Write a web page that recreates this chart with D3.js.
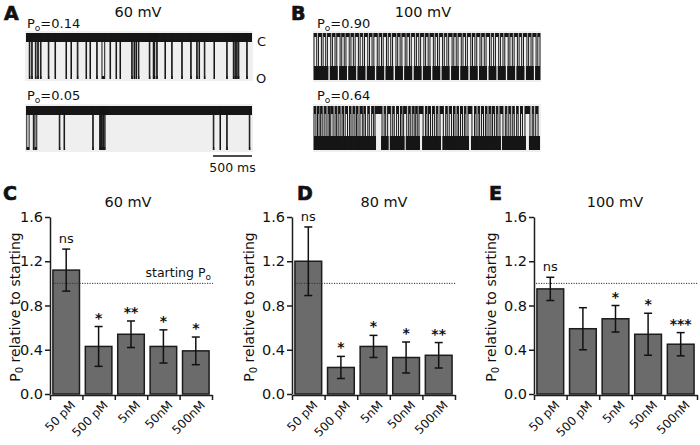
<!DOCTYPE html>
<html>
<head>
<meta charset="utf-8">
<script src="https://cdn.jsdelivr.net/npm/d3@7"></script>
<style>
  body { margin: 0; background: #fff; }
  svg text { font-family: "DejaVu Sans", sans-serif; fill: #111; }
</style>
</head>
<body>
<div id="chart"></div>
<script>
const width = 700;
const height = 445;

// bar charts: Po relative to starting, mean and error
const concentrations = ["50 pM", "500 pM", "5nM", "50nM", "500nM"];
const po60 = [1.12, 0.43, 0.54, 0.43, 0.39];
const err60 = [0.19, 0.18, 0.12, 0.15, 0.125];
const sig60 = ["ns", "*", "**", "*", "*"];
const po80 = [1.2, 0.24, 0.43, 0.33, 0.35];
const err80 = [0.31, 0.10, 0.10, 0.14, 0.115];
const sig80 = ["ns", "*", "*", "*", "**"];
const po100 = [0.95, 0.59, 0.68, 0.54, 0.45];
const err100 = [0.105, 0.19, 0.12, 0.19, 0.105];
const sig100 = ["ns", "", "*", "*", "***"];
const yTicks = [0, 0.4, 0.8, 1.2, 1.6];

// single channel traces, events in the less frequent state as [start ms, end ms]
const openingsA1 = [[42,49],[73,80],[120,128],[150,158],[185,193],[286,293],[372,379],[513,520],[577,584],[658,666],
  [770,777],[821,828],[907,914],[975,1010],[1078,1085],[1155,1162],[1206,1213],[1356,1363],[1386,1393],[1411,1418],
  [1441,1448],[1582,1589],[1633,1638],[1646,1652],[1677,1684],[1783,1790],[1869,1876],[1998,2005],[2113,2120],
  [2190,2197],[2220,2227],[2288,2295],[2412,2419],[2575,2582],[2660,2666],[2681,2687],[2703,2709],[2724,2731],[2832,2839]];
const openingsA2 = [[10,40],[94,101],[115,138],[427,434],[488,495],[856,863],[945,955],[962,970],[980,995],[1003,1015],
  [2403,2410],[2489,2496],[2575,2582],[2865,2872]];
const closuresB1 = [[0,35],[57,95],[117,150],[172,215],[236,270],[292,335],[356,388],[410,452],[474,505],[528,570],
  [592,625],[648,690],[712,745],[768,812],[835,866],[888,930],[952,985],[1008,1052],[1074,1105],[1128,1170],
  [1192,1225],[1248,1292],[1314,1345],[1368,1410],[1432,1465],[1488,1532],[1554,1585],[1608,1650],[1672,1705],
  [1728,1772],[1794,1825],[1848,1890],[1912,1945],[1968,2012],[2034,2065],[2088,2130],[2152,2185],[2208,2252],
  [2274,2305],[2328,2370],[2392,2425],[2448,2492],[2514,2545],[2568,2610],[2632,2665],[2688,2732],[2754,2785],
  [2808,2850],[2872,2900]];
const closuresB2 = [[0,25],[45,65],[85,105],[130,155],[180,200],[215,245],[270,290],[310,335],[360,378],[400,430],
  [455,475],[500,525],[545,565],[590,620],[640,660],[690,710],[740,765],[783,873],[900,920],[945,985],[1010,1030],
  [1060,1085],[1110,1130],[1150,1190],[1215,1235],[1260,1285],[1305,1325],[1347,1400],[1430,1450],[1470,1495],
  [1520,1545],[1570,1590],[1617,1660],[1690,1710],[1735,1765],[1790,1810],[1835,1855],[1880,1905],[1930,1950],
  [1976,2027],[2060,2080],[2105,2125],[2150,2175],[2200,2220],[2245,2270],[2290,2315],[2340,2360],[2386,2425],
  [2455,2475],[2500,2525],[2550,2570],[2600,2620],[2650,2675],[2707,2771],[2800,2820],[2845,2875]];
const traceLength = 2900;
const scaleBarMs = 500;

const svg = d3.select("#chart")
  .append("svg")
  .attr("width", width)
  .attr("height", height);

function letter(x, y, t) {
  svg.append("text")
    .attr("x", x).attr("y", y)
    .attr("font-family", "Liberation Sans, Arial, sans-serif")
    .attr("font-weight", "bold")
    .attr("font-size", 19)
    .attr("stroke", "#111").attr("stroke-width", 0.7)
    .text(t);
}

function poLabel(x, y, value) {
  const t = svg.append("text").attr("x", x).attr("y", y).attr("font-size", 13);
  t.append("tspan").text("P");
  t.append("tspan").attr("font-size", 9).attr("dy", 3).text("o");
  t.append("tspan").attr("dy", -3).text("=" + value);
}

// ---- traces ----
function drawTrace(cfg) {
  const x = d3.scaleLinear().domain([0, traceLength]).range([cfg.x0, cfg.x0 + 226]);
  const g = svg.append("g");
  const bandClosed = [cfg.top, cfg.top + cfg.closedH];
  const bandOpen = [cfg.bottom - cfg.openH, cfg.bottom];
  const dom = cfg.dominant === "closed" ? bandClosed : bandOpen;
  const other = cfg.dominant === "closed" ? bandOpen : bandClosed;
  const bg = "#efefef";

  g.append("rect")
    .attr("x", x(0) - 1).attr("y", cfg.top - 2)
    .attr("width", x(traceLength) - x(0) + 2).attr("height", cfg.bottom - cfg.top + 4)
    .attr("fill", bg);

  g.append("rect")
    .attr("x", x(0)).attr("y", dom[0])
    .attr("width", x(traceLength) - x(0)).attr("height", dom[1] - dom[0])
    .attr("fill", "#161616");

  // interrupt the dominant band during long events
  g.selectAll("rect.cut")
    .data(cfg.events.filter(d => x(d[1]) - x(d[0]) > 3))
    .enter().append("rect")
    .attr("x", d => x(d[0]) + 1).attr("y", dom[0] - 0.5)
    .attr("width", d => x(d[1]) - x(d[0]) - 2).attr("height", dom[1] - dom[0] + 1)
    .attr("fill", bg);

  g.selectAll("rect.ev")
    .data(cfg.events)
    .enter().append("rect")
    .attr("x", d => x(d[0])).attr("y", other[0])
    .attr("width", d => Math.max(1, x(d[1]) - x(d[0]))).attr("height", other[1] - other[0])
    .attr("fill", "#161616");

  g.selectAll("line.edge")
    .data(cfg.events.flatMap(d => [d[0], d[1]]))
    .enter().append("line")
    .attr("x1", d => x(d)).attr("x2", d => x(d))
    .attr("y1", cfg.top).attr("y2", cfg.bottom)
    .attr("stroke", "#161616").attr("stroke-width", 1);

  return x;
}

letter(4, 20, "A");
svg.append("text").attr("x", 138).attr("y", 17).attr("text-anchor", "middle")
  .attr("font-size", 14.5).text("60 mV");
poLabel(27, 28, "0.14");
drawTrace({ x0: 26, top: 33, bottom: 79, closedH: 9, openH: 3, dominant: "closed", events: openingsA1 });
svg.append("text").attr("x", 257).attr("y", 46).attr("font-size", 13).text("C");
svg.append("text").attr("x", 256).attr("y", 83).attr("font-size", 13).text("O");
poLabel(27, 100, "0.05");
const xA2 = drawTrace({ x0: 26, top: 106, bottom: 150, closedH: 9, openH: 3, dominant: "closed", events: openingsA2 });

svg.append("line")
  .attr("x1", xA2(traceLength - scaleBarMs)).attr("x2", xA2(traceLength))
  .attr("y1", 156).attr("y2", 156)
  .attr("stroke", "#111").attr("stroke-width", 1.3);
svg.append("text").attr("x", (xA2(traceLength - scaleBarMs) + xA2(traceLength)) / 2).attr("y", 172)
  .attr("text-anchor", "middle").attr("font-size", 12.5).text("500 ms");

letter(291, 20, "B");
svg.append("text").attr("x", 423).attr("y", 17).attr("text-anchor", "middle")
  .attr("font-size", 14.5).text("100 mV");
poLabel(317, 28, "0.90");
drawTrace({ x0: 314, top: 33, bottom: 80, closedH: 4, openH: 14, dominant: "open", events: closuresB1 });
poLabel(317, 100, "0.64");
drawTrace({ x0: 314, top: 106, bottom: 150, closedH: 8, openH: 14, dominant: "open", events: closuresB2 });

// ---- bar panels ----
function drawPanel(cfg) {
  const y = d3.scaleLinear().domain([0, 1.6]).range([394, 217]);
  const xb = d3.scaleBand().domain(concentrations).range([cfg.x0, cfg.x1])
    .paddingInner(0.18).paddingOuter(0.09);
  const edges = d3.scaleLinear().domain([0, concentrations.length]).range([cfg.x0, cfg.x1]);
  const rows = concentrations.map((c, i) => ({ c, v: cfg.values[i], e: cfg.errs[i], s: cfg.sigs[i] }));
  const g = svg.append("g");

  letter(cfg.letterX, 200, cfg.letter);
  g.append("text").attr("x", cfg.titleX).attr("y", 207).attr("text-anchor", "middle")
    .attr("font-size", 14.5).text(cfg.title);

  const yl = g.append("text")
    .attr("transform", `translate(${cfg.labelX},307) rotate(-90)`)
    .attr("text-anchor", "middle").attr("font-size", 14);
  yl.append("tspan").text("P");
  yl.append("tspan").attr("font-size", 10).attr("dy", 3).text("0");
  yl.append("tspan").attr("dy", -3).text(" relative to starting");

  g.selectAll("rect.bar")
    .data(rows)
    .enter().append("rect")
    .attr("x", d => xb(d.c)).attr("y", d => y(d.v))
    .attr("width", xb.bandwidth()).attr("height", d => y(0) - y(d.v))
    .attr("fill", "#6b6b6b").attr("stroke", "#1c1c1c").attr("stroke-width", 1.5);

  g.append("line")
    .attr("x1", cfg.x0 + 2).attr("x2", cfg.x1 + 1)
    .attr("y1", y(1)).attr("y2", y(1))
    .attr("stroke", "#333").attr("stroke-width", 1).attr("stroke-dasharray", "1.2 1.3");

  const eb = g.selectAll("g.err").data(rows).enter().append("g")
    .attr("stroke", "#111").attr("stroke-width", 1.5);
  eb.append("line")
    .attr("x1", d => xb(d.c) + xb.bandwidth() / 2).attr("x2", d => xb(d.c) + xb.bandwidth() / 2)
    .attr("y1", d => y(d.v - d.e)).attr("y2", d => y(d.v + d.e));
  [-1, 1].forEach(k => {
    eb.append("line")
      .attr("x1", d => xb(d.c) + xb.bandwidth() / 2 - 4).attr("x2", d => xb(d.c) + xb.bandwidth() / 2 + 4)
      .attr("y1", d => y(d.v + k * d.e)).attr("y2", d => y(d.v + k * d.e));
  });

  g.selectAll("text.sig")
    .data(rows)
    .enter().append("text")
    .attr("x", d => xb(d.c) + xb.bandwidth() / 2)
    .attr("y", d => y(d.v + d.e) - (d.s === "ns" ? 6 : 4))
    .attr("text-anchor", "middle")
    .attr("font-size", d => d.s === "ns" ? 13 : 14)
    .attr("font-weight", d => d.s === "ns" ? "normal" : "bold")
    .text(d => d.s);

  if (cfg.starting) {
    const st = g.append("text").attr("x", cfg.x1 - 1).attr("y", y(1) - 6)
      .attr("text-anchor", "end").attr("font-size", 12.5);
    st.append("tspan").text("starting P");
    st.append("tspan").attr("font-size", 9).attr("dy", 3).text("o");
  }

  const ya = g.append("g")
    .attr("transform", `translate(${cfg.x0},0)`)
    .call(d3.axisLeft(y).tickValues(yTicks).tickFormat(d3.format(".1f"))
      .tickSize(5).tickSizeOuter(0).tickPadding(2));
  ya.selectAll("text").attr("font-size", 14.5).attr("fill", "#111");

  g.append("g")
    .attr("transform", `translate(0,${y(0) + 1})`)
    .call(d3.axisBottom(edges).tickValues(d3.range(concentrations.length + 1))
      .tickFormat("").tickSize(5).tickSizeOuter(0));
  g.selectAll(".domain, .tick line").attr("stroke", "#1c1c1c").attr("stroke-width", 1.5);

  g.selectAll("text.xl")
    .data(rows)
    .enter().append("text")
    .attr("transform", d => `translate(${xb(d.c) + xb.bandwidth() / 2 + 10},${y(0) + 12}) rotate(-45)`)
    .attr("text-anchor", "end").attr("font-size", 12)
    .text(d => d.c);
}

drawPanel({ x0: 50, x1: 212, letter: "C", letterX: 3, title: "60 mV", titleX: 128, labelX: 20,
  values: po60, errs: err60, sigs: sig60, starting: true });
drawPanel({ x0: 292, x1: 455, letter: "D", letterX: 297, title: "80 mV", titleX: 384, labelX: 254,
  values: po80, errs: err80, sigs: sig80, starting: false });
drawPanel({ x0: 534, x1: 697, letter: "E", letterX: 489, title: "100 mV", titleX: 615, labelX: 496,
  values: po100, errs: err100, sigs: sig100, starting: false });
</script>
</body>
</html>
